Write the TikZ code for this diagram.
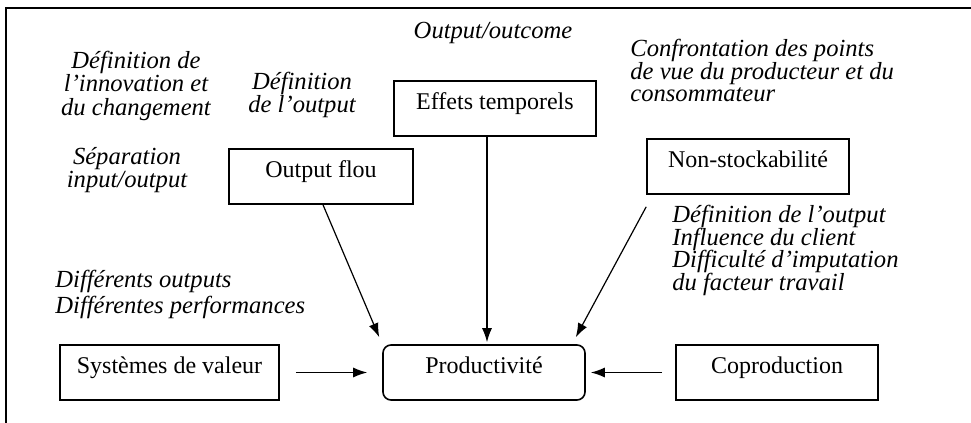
\documentclass[tikz,border=0pt]{standalone}
\usepackage{fontspec}
\setmainfont{Liberation Serif}
\usetikzlibrary{arrows.meta}

\begin{document}
\begin{tikzpicture}[x=0.5pt, y=-0.5pt,
  >={Latex[length=7pt,width=5pt]},
  box/.style={draw, line width=0.8pt, inner sep=0pt, minimum width=101pt,
    minimum height=27.5pt, text height=14pt, text depth=13.5pt,
    font=\fontsize{12}{14}\selectfont},
  note/.style={inner sep=0pt, font=\fontsize{12.3}{11.3}\selectfont\itshape},
  flow/.style={->, line width=0.6pt}]

\useasboundingbox (0,0) rectangle (971,423);
\draw[line width=0.8pt] (6,423) -- (6,8) -- (971,8);

% boxes
\node[box] (eff) at (495,108.5) {Effets temporels};
\node[box, minimum width=92pt] (flou) at (321,176.5) {Output flou};
\node[box] (stock) at (748,166.5) {Non-stockabilité};
\node[box, minimum width=109.5pt] (val) at (169.5,372.5) {Systèmes de valeur};
\node[box, rounded corners=4pt] (prod) at (484,372.5) {Productivité};
\node[box] (copro) at (777,372.5) {Coproduction};

% italic notes
\node[note] (otc) at (493,33) {Output/outcome};
\node[note, align=center, font=\fontsize{12.3}{11.75}\selectfont\itshape] (innov) at (136,85.5) {Définition de\\l'innovation et\\du changement};
\node[note, align=center] (defout) at (302,95) {Définition\\de l'output};
\node[note, align=center] (sep) at (127,170) {Séparation\\input/output};
\node[note, align=left, anchor=west] (confr) at (630,70.5) {Confrontation des points\\de vue du producteur et du\\consommateur};
\node[note, align=left, anchor=west] (client) at (672,250.5) {Définition de l'output\\Influence du client\\Difficulté d'imputation\\du facteur travail};
\node[note, align=left, anchor=west, font=\fontsize{12.3}{13}\selectfont\itshape] (perf) at (55,294) {Différents outputs\\Différentes performances};

% arrows
\draw[flow, shorten <=8pt, shorten >=7.5pt] (val) -- (prod);
\draw[flow, shorten <=6.5pt, shorten >=2.5pt] (copro) -- (prod);
\draw[flow, shorten >=1pt] ([xshift=-4pt]eff.south) -- ([xshift=-4pt]eff.south |- prod.north);
\draw[flow] ([xshift=1pt]flou.south) -- ([xshift=-1.5pt,yshift=3.5pt]prod.north west);
\draw[flow] ([yshift=-6pt]stock.south west) -- ([xshift=-5pt,yshift=3.5pt]prod.north east);

\end{tikzpicture}
\end{document}
